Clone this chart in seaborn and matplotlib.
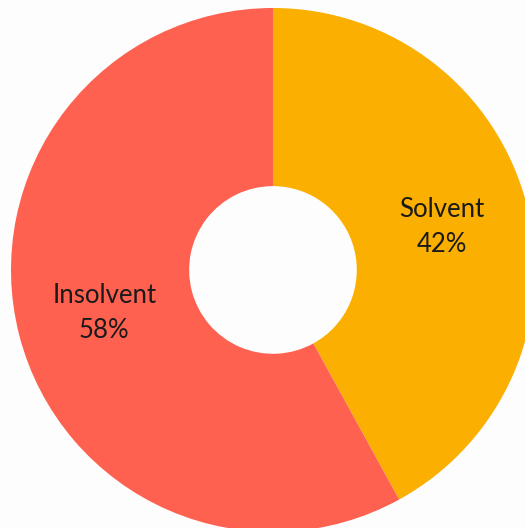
import matplotlib
matplotlib.use("Agg")
import matplotlib.pyplot as plt
import seaborn as sns

# Share of firms by solvency status
categories = ["Solvent", "Insolvent"]
shares = [42, 58]
colors = ["#FBAF00", "#FE6150"]

sns.set_theme(style="white")
plt.rcParams["font.family"] = ["Lato", "DejaVu Sans"]

fig = plt.figure(figsize=(5.25, 5.28), dpi=100)
fig.patch.set_facecolor("#FDFDFD")
ax = fig.add_axes([0, 0, 1, 1])
ax.set_facecolor("#FDFDFD")

labels_iter = iter(categories)


def fmt(pct):
    return f"{next(labels_iter)}\n{pct:.0f}%"


wedges, texts, autotexts = ax.pie(
    shares,
    colors=sns.color_palette(colors),
    startangle=90,
    counterclock=False,
    autopct=fmt,
    pctdistance=0.665,
    radius=1.0,
    wedgeprops=dict(width=0.68, edgecolor="none", linewidth=0),
    textprops=dict(fontsize=18.5, color="#1a1a1a", linespacing=1.5),
)

ax.set_aspect("auto")
ax.set_xlim(-1.042, 0.962)
ax.set_ylim(-0.985, 1.0305)
ax.axis("off")

fig.savefig("out.png", dpi=100, facecolor=fig.get_facecolor())
